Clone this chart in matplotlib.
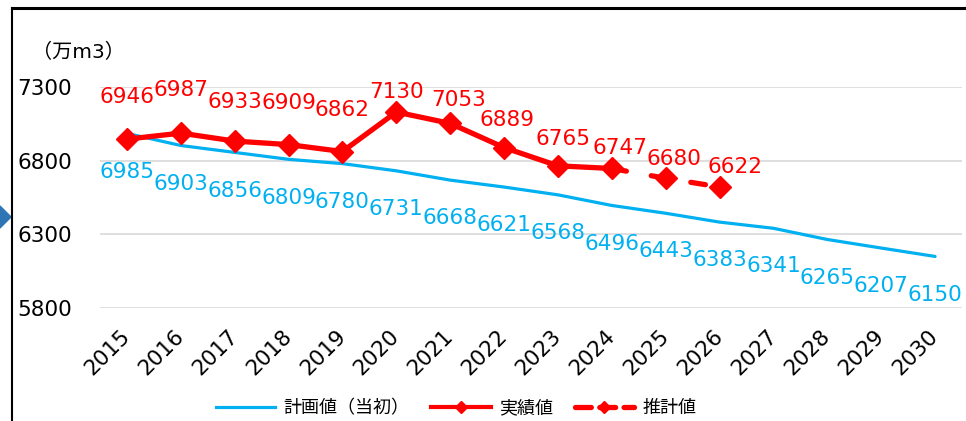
import numpy as np
import matplotlib
matplotlib.use("Agg")
import matplotlib.pyplot as plt
from matplotlib.lines import Line2D
from matplotlib.patches import Polygon

plt.rcParams['font.family'] = ['DejaVu Sans', 'Noto Sans CJK JP']

# ---- data ----
years = [str(y) for y in range(2015, 2031)]
plan = [6985, 6903, 6856, 6809, 6780, 6731, 6668, 6621, 6568, 6496,
        6443, 6383, 6341, 6265, 6207, 6150]
actual_years = [str(y) for y in range(2015, 2025)]
actual = [6946, 6987, 6933, 6909, 6862, 7130, 7053, 6889, 6765, 6747]
est_years = ['2024', '2025', '2026']
estimate = [6747, 6680, 6622]
yticks = [5800, 6300, 6800, 7300]
unit_label = '（万m3）'
legend_labels = ['計画値（当初）', '実績値', '推計値']

# ---- style ----
BLUE = '#00B0F0'
RED = '#FF0000'
FS = 15.5
# label offsets in points (styling)
red_dx = [0, 0, 0, 0, 0, 0, 6, 2, 4, 6, 6, 11]
red_dy = [30, 31, 28, 30, 30, 14.5, 16.5, 20, 19.5, 14.5, 14, 14]

fig = plt.figure(figsize=(9.66, 4.21), dpi=100)
ax = fig.add_axes([100/966, 1 - 308/421, 862/966, 221/421])

idx = {y: i for i, y in enumerate(years)}
xp = np.array([idx[y] for y in years])
xa = np.array([idx[y] for y in actual_years])
xe = np.array([idx[y] for y in est_years])

ax.plot(xp, plan, color=BLUE, lw=2.3, zorder=2, solid_capstyle='round')
ax.plot(xa, actual, color=RED, lw=3.8, marker='D', ms=11.5, zorder=3)
ax.plot(xe, estimate, color=RED, lw=3.8, dashes=(2.8, 4.8), dash_capstyle='round',
        zorder=3)
ax.plot(xe[1:], estimate[1:], color=RED, lw=0, marker='D', ms=11.5, zorder=4)

for x, v in zip(xp, plan):
    ax.annotate(str(v), (x, v), xytext=(0, -27.5), textcoords='offset points',
                ha='center', va='center', color=BLUE, fontsize=FS,
                annotation_clip=False)
red_x = list(xa) + list(xe[1:])
red_v = actual + estimate[1:]
for i, (x, v) in enumerate(zip(red_x, red_v)):
    ax.annotate(str(v), (x, v), xytext=(red_dx[i], red_dy[i]),
                textcoords='offset points', ha='center', va='center',
                color=RED, fontsize=FS, annotation_clip=False)

ax.set_xlim(-0.5, len(years) - 0.5)
ax.set_ylim(5800, 7300)
ax.set_yticks(yticks)
ax.set_yticklabels([str(t) for t in yticks], fontsize=FS)
ax.set_xticks(xp)
ax.set_xticklabels(years, fontsize=FS, rotation=45, ha='right', va='center',
                   rotation_mode='anchor')
ax.tick_params(axis='y', length=0, pad=20)
ax.tick_params(axis='x', length=0, pad=18)
for s in ax.spines.values():
    s.set_visible(False)
ax.grid(axis='y', color='#D9D9D9', lw=1.2)
ax.set_axisbelow(True)

fig.text(32/966, 1 - 52/421, unit_label, fontsize=14.5, ha='left', va='center')

# legend
h1 = Line2D([], [], color=BLUE, lw=2.3)
h2 = Line2D([], [], color=RED, lw=3.0, marker='D', ms=6)
h3 = Line2D([], [], color=RED, lw=3.8, dashes=(3, 1.6), dash_capstyle='round',
            marker='D', ms=6)
fig.legend([h1, h2, h3], legend_labels, loc='center',
           bbox_to_anchor=(456/966, 1 - 408/421), ncol=3, frameon=False,
           fontsize=13, handlelength=3.3, handletextpad=0.45,
           columnspacing=1.2)

# frame decorations
fig.add_artist(Line2D([12/966, 1], [1 - 8/421, 1 - 8/421], color='black',
                      lw=2.2, transform=fig.transFigure))
fig.add_artist(Line2D([12/966, 12/966], [0, 1 - 8/421], color='black',
                      lw=1.5, transform=fig.transFigure))
fig.add_artist(Polygon([[0, 1 - 206/421], [0, 1 - 228/421], [11/966, 1 - 217/421]],
                       closed=True, color='#2E75B6', transform=fig.transFigure))

fig.savefig('out.png', dpi=100)
